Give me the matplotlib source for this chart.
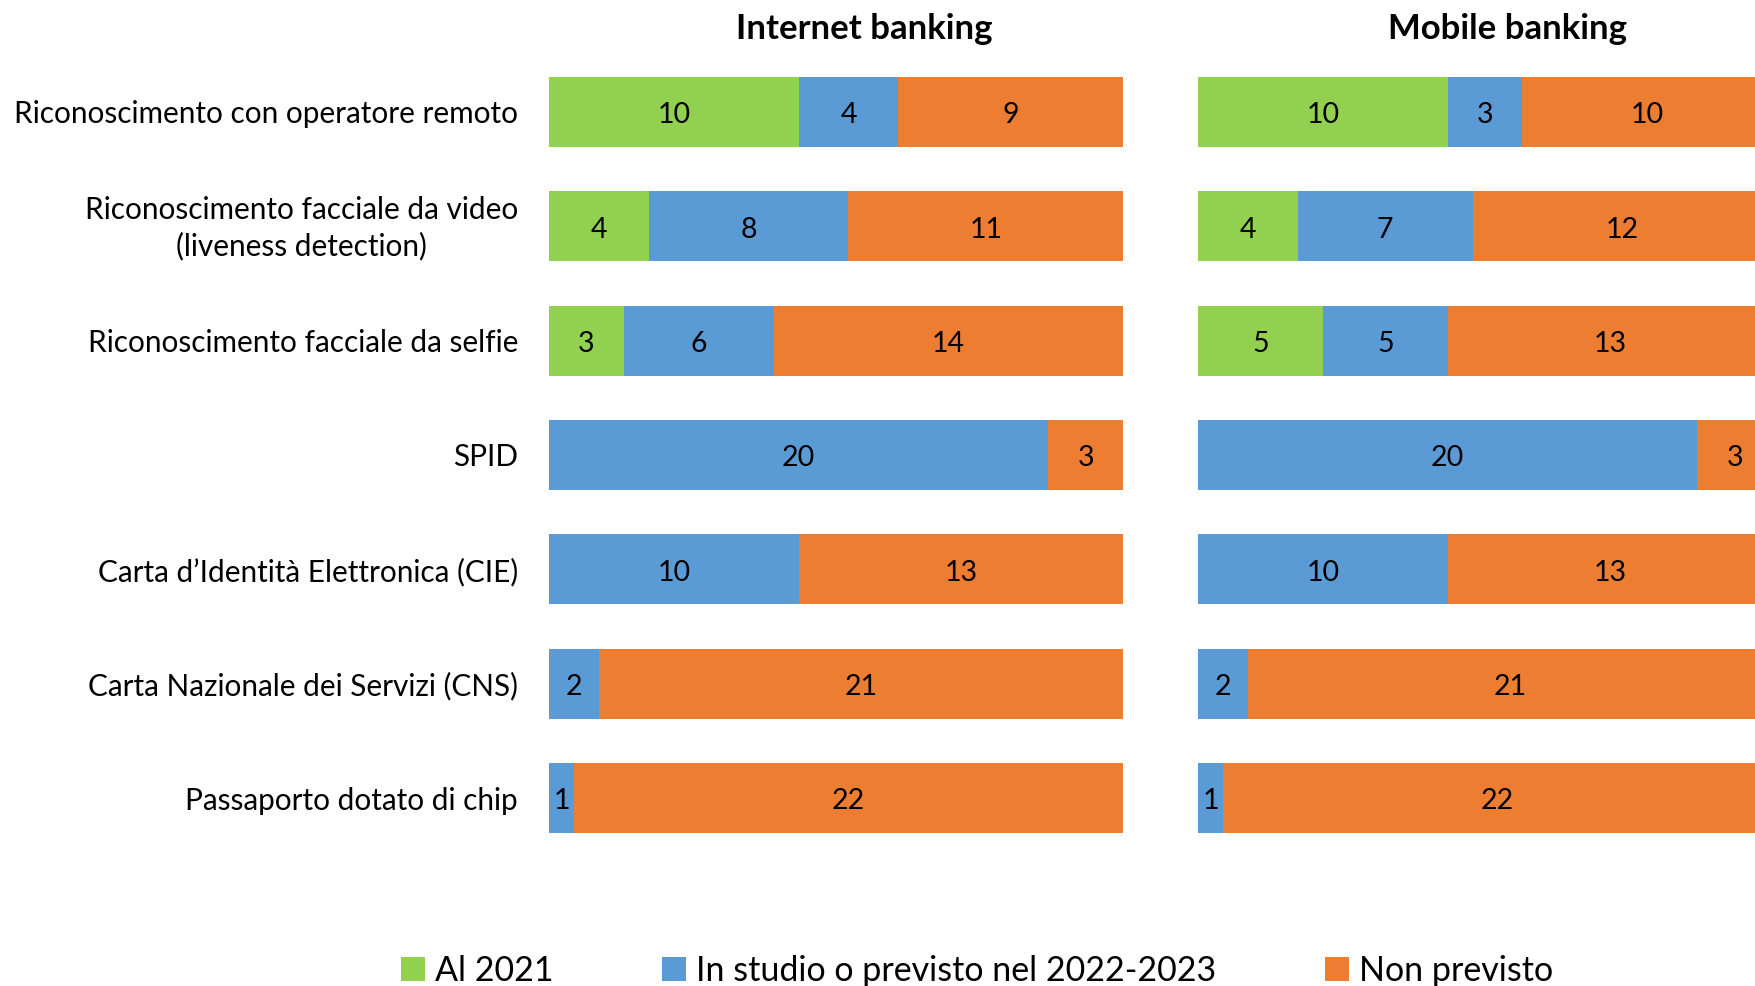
import numpy as np
import matplotlib
matplotlib.use("Agg")
import matplotlib.pyplot as plt
import matplotlib.transforms as mtransforms
from matplotlib.patches import Patch

plt.rcParams['font.family'] = ['Lato', 'DejaVu Sans']

categories = [
    "Riconoscimento con operatore remoto",
    "Riconoscimento facciale da video\n(liveness detection)",
    "Riconoscimento facciale da selfie",
    "SPID",
    "Carta d\u2019Identità Elettronica (CIE)",
    "Carta Nazionale dei Servizi (CNS)",
    "Passaporto dotato di chip",
]
series_names = ["Al 2021", "In studio o previsto nel 2022-2023", "Non previsto"]

internet_al2021 = [10, 4, 3, 0, 0, 0, 0]
internet_studio = [4, 8, 6, 20, 10, 2, 1]
internet_non = [9, 11, 14, 3, 13, 21, 22]

mobile_al2021 = [10, 4, 5, 0, 0, 0, 0]
mobile_studio = [3, 7, 5, 20, 10, 2, 1]
mobile_non = [10, 12, 13, 3, 13, 21, 22]

colors = ["#92D050", "#5B9BD5", "#ED7D31"]

W, H = 1755, 986
fig = plt.figure(figsize=(W / 100, H / 100), dpi=100)

# axes placed in pixel terms; the right panel runs past the figure edge
ax_bottom = 1 - 855.2 / H
ax_height = 800.4 / H
ax_ib = fig.add_axes([549 / W, ax_bottom, 574 / W, ax_height])
ax_mb = fig.add_axes([1198 / W, ax_bottom, 574 / W, ax_height])

y = np.arange(len(categories))


def draw_panel(ax, parts):
    left = np.zeros(len(categories))
    for vals, col in zip(parts, colors):
        vals = np.array(vals)
        ax.barh(y, vals, left=left, height=0.61, color=col, edgecolor="none")
        for yi, v, l in zip(y, vals, left):
            if v > 0:
                ax.text(l + v / 2, yi + 0.03, str(v), ha="center",
                        va="center", fontsize=20.5, color="black",
                        clip_on=True)
        left += vals
    ax.set_xlim(0, 23)
    ax.set_ylim(6.5, -0.5)
    for s in ax.spines.values():
        s.set_visible(False)
    ax.set_xticks([])
    ax.set_yticks([])


draw_panel(ax_ib, [internet_al2021, internet_studio, internet_non])
draw_panel(ax_mb, [mobile_al2021, mobile_studio, mobile_non])

# category labels, right-aligned just left of the bars
lbl_tr = mtransforms.blended_transform_factory(fig.transFigure, ax_ib.transData)
for yi, cat in zip(y, categories):
    dy = -0.04 if "\n" in cat else 0.0
    ax_ib.text(518 / W, yi + dy, cat, transform=lbl_tr, ha="right",
               va="center_baseline", multialignment="center",
               linespacing=1.35, fontsize=21.4)

fig.text(864 / W, 1 - 29 / H, "Internet banking", fontsize=25,
         fontweight="bold", ha="center", va="center")
fig.text(1508 / W, 1 - 29 / H, "Mobile banking", fontsize=25,
         fontweight="bold", ha="center", va="center")

handles = [Patch(facecolor=c, edgecolor="none") for c in colors]
fig.legend(handles, series_names, loc="center", ncol=3,
           bbox_to_anchor=(977 / W, 1 - 971 / H), frameon=False,
           fontsize=24.5, handlelength=0.7, handleheight=0.7,
           handletextpad=0.3, columnspacing=3.2)

fig.savefig("out.png", dpi=100)
